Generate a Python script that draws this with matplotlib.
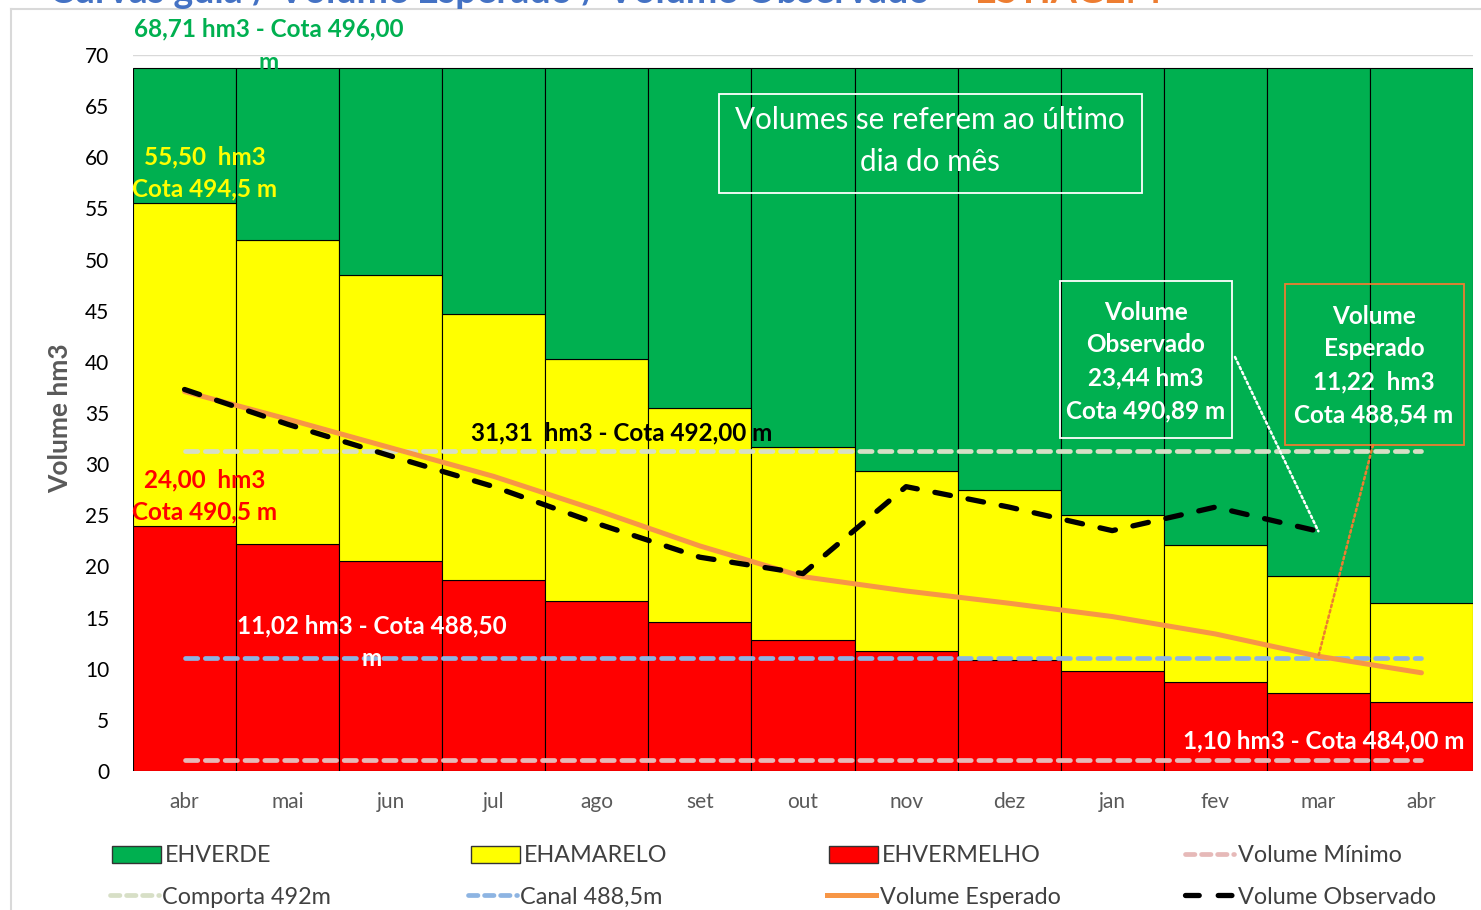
import numpy as np
import matplotlib.pyplot as plt
from matplotlib.patches import Patch, Rectangle
from matplotlib.lines import Line2D

# dados (hm3)
meses = ["abr", "mai", "jun", "jul", "ago", "set", "out", "nov", "dez", "jan", "fev", "mar", "abr"]
vermelho = [24.0, 22.2, 20.5, 18.7, 16.6, 14.6, 12.8, 11.7, 10.85, 9.8, 8.7, 7.65, 6.7]
amarelo_topo = [55.5, 51.9, 48.5, 44.7, 40.3, 35.5, 31.7, 29.35, 27.5, 25.0, 22.1, 19.05, 16.4]
verde_topo = 68.71
vol_esperado = [37.1, 34.4, 31.6, 28.8, 25.5, 22.0, 19.0, 17.6, 16.4, 15.1, 13.4, 11.22, 9.6]
vol_observado = [37.3, 33.9, 30.8, 27.8, 24.2, 20.9, 19.3, 27.8, 25.8, 23.5, 25.8, 23.44]
vol_minimo = 1.10
comporta = 31.31
canal = 11.02

W, H = 1481, 910
VERDE = "#00B050"
AMARELO = "#FFFF00"
VERM = "#FF0000"
LARANJA = "#F79646"
C_COMP = "#D7DFC6"
C_CANAL = "#8DB4E2"
C_MIN = "#E6B9B8"
CINZA = "#595959"

plt.rcParams["font.family"] = ["Lato", "DejaVu Sans"]


def fx(x):
    return x / W


def fy(y):
    return 1 - y / H


def linhas(txts, xc, ys, **kw):
    for t, y in zip(txts, ys):
        fig.text(fx(xc), fy(y), t, ha="center", va="center", **kw)


fig = plt.figure(figsize=(W / 100, H / 100), dpi=100)
ax = fig.add_axes([fx(133), fy(771), fx(1473) - fx(133), fy(55) - fy(771)])

x = np.arange(len(meses))
verm = np.array(vermelho)
amar = np.array(amarelo_topo) - verm
verd = verde_topo - np.array(amarelo_topo)

ax.bar(x, verm, width=1.0, color=VERM, edgecolor="black", linewidth=0.8, zorder=2)
ax.bar(x, amar, width=1.0, bottom=verm, color=AMARELO, edgecolor="black", linewidth=0.8, zorder=2)
ax.bar(x, verd, width=1.0, bottom=amarelo_topo, color=VERDE, edgecolor="black", linewidth=0.8, zorder=2)

kw_ref = dict(lw=3.4, dashes=(2.6, 1.6), dash_capstyle="round", zorder=3)
ax.plot(x, [vol_minimo] * len(x), color=C_MIN, **kw_ref)
ax.plot(x, [comporta] * len(x), color=C_COMP, **kw_ref)
ax.plot(x, [canal] * len(x), color=C_CANAL, **kw_ref)
ax.plot(x, vol_esperado, color=LARANJA, lw=3.6, solid_capstyle="round", zorder=4)
ax.plot(x[:len(vol_observado)], vol_observado, color="black", lw=3.8,
        dashes=(3.0, 3.4), dash_capstyle="round", zorder=5)

ax.set_xlim(-0.5, len(x) - 0.5)
ax.set_ylim(0, 70)
ax.set_yticks(np.arange(0, 71, 5))
ax.set_xticks(x)
ax.set_xticklabels(meses)
ax.tick_params(axis="x", length=0, pad=15, labelsize=15, labelcolor=CINZA)
ax.tick_params(axis="y", length=0, pad=17, labelsize=15, labelcolor="black")
ax.yaxis.grid(True, color="#D9D9D9", lw=1, zorder=0)
ax.set_axisbelow(True)
for s in ax.spines.values():
    s.set_visible(False)

fig.text(fx(60), fy(418), "Volume hm3", rotation=90, ha="center", va="center",
         fontsize=19, fontweight="bold", color=CINZA)

# titulo cortado no topo
fig.text(fx(930), fy(3), "Curvas guia / Volume Esperado / Volume Observado", ha="right",
         va="baseline", fontsize=27, fontweight="bold", color="#4472C4")
fig.text(fx(975), fy(3), "ESTIAGEM", ha="left", va="baseline", fontsize=27,
         fontweight="bold", color="#ED7D31")

# moldura do grafico
fig.add_artist(Line2D([fx(11), fx(11)], [fy(9), 0], color="#D9D9D9", lw=1.5))
fig.add_artist(Line2D([fx(11), 1], [fy(9), fy(9)], color="#D9D9D9", lw=1.5))

# rotulos das curvas
b = dict(fontsize=17.5, fontweight="bold")
linhas(["68,71 hm3 - Cota 496,00", "m"], 269, [29, 62], color=VERDE, **b)
linhas(["55,50  hm3", "Cota 494,5 m"], 205, [157, 189], color=AMARELO, **b)
linhas(["24,00  hm3", "Cota 490,5 m"], 205, [480, 512], color=VERM, **b)
linhas(["31,31  hm3 - Cota 492,00 m"], 622, [433], color="black", **b)
linhas(["11,02 hm3 - Cota 488,50", "m"], 372, [626, 659], color="white", **b)
linhas(["1,10 hm3 - Cota 484,00 m"], 1324, [741], color="white", **b)

# caixas de texto
fig.add_artist(Rectangle((fx(719), fy(193)), fx(1142) - fx(719), fy(94) - fy(193),
                         transform=fig.transFigure, fill=False, ec="white", lw=1.3))
linhas(["Volumes se referem ao último", "dia do mês"], 930, [120, 162],
       color="white", fontsize=21.3)

fig.add_artist(Rectangle((fx(1060), fy(438)), fx(1232) - fx(1060), fy(281) - fy(438),
                         transform=fig.transFigure, fill=False, ec="white", lw=1.3))
linhas(["Volume", "Observado", "23,44 hm3", "Cota 490,89 m"], 1146, [313, 345, 378, 411],
       color="white", fontsize=17.5, fontweight="bold")

fig.add_artist(Rectangle((fx(1285), fy(445)), fx(1464) - fx(1285), fy(284) - fy(445),
                         transform=fig.transFigure, fill=False, ec="#ED7D31", lw=1.3))
linhas(["Volume", "Esperado", "11,22  hm3", "Cota 488,54 m"], 1374, [317, 349, 382, 415],
       color="white", fontsize=17.5, fontweight="bold")

# linhas de chamada
ax.annotate("", xy=(len(vol_observado) - 1, vol_observado[-1]), xycoords="data",
            xytext=(fx(1235), fy(357)), textcoords="figure fraction",
            arrowprops=dict(arrowstyle="-", color="white", lw=1.8, linestyle=(0, (1, 1.2)),
                            shrinkA=0, shrinkB=0), zorder=6)
ax.annotate("", xy=(11, vol_esperado[11]), xycoords="data",
            xytext=(fx(1373), fy(445)), textcoords="figure fraction",
            arrowprops=dict(arrowstyle="-", color="#ED7D31", lw=1.8, linestyle=(0, (1, 1.2)),
                            shrinkA=0, shrinkB=0), zorder=6)

# legenda
leg_kw = dict(fontsize=16.8, frameon=False, borderpad=0, borderaxespad=0,
              handlelength=2.1, handletextpad=0.15, labelcolor="#404040")
itens = [
    (Patch(fc=VERDE, ec="#333333"), "EHVERDE", 112, 856),
    (Patch(fc=AMARELO, ec="#333333"), "EHAMARELO", 471, 856),
    (Patch(fc=VERM, ec="#333333"), "EHVERMELHO", 829, 856),
    (Line2D([], [], color=C_MIN, lw=3.4, dashes=(2.0, 1.4), dash_capstyle="round"), "Volume Mínimo", 1185, 856),
    (Line2D([], [], color=C_COMP, lw=3.4, dashes=(2.0, 1.4), dash_capstyle="round"), "Comporta 492m", 110, 897),
    (Line2D([], [], color=C_CANAL, lw=3.4, dashes=(2.0, 1.4), dash_capstyle="round"), "Canal 488,5m", 468, 897),
    (Line2D([], [], color=LARANJA, lw=3.6), "Volume Esperado", 827, 897),
    (Line2D([], [], color="black", lw=3.8, dashes=(2.6, 3.6), dash_capstyle="round"), "Volume Observado", 1185, 897),
]
for h, lab, px, py in itens:
    lg = fig.legend(handles=[h], labels=[lab], loc="center left",
                    bbox_to_anchor=(fx(px), fy(py)), **leg_kw)

fig.savefig("out.png", dpi=100)
